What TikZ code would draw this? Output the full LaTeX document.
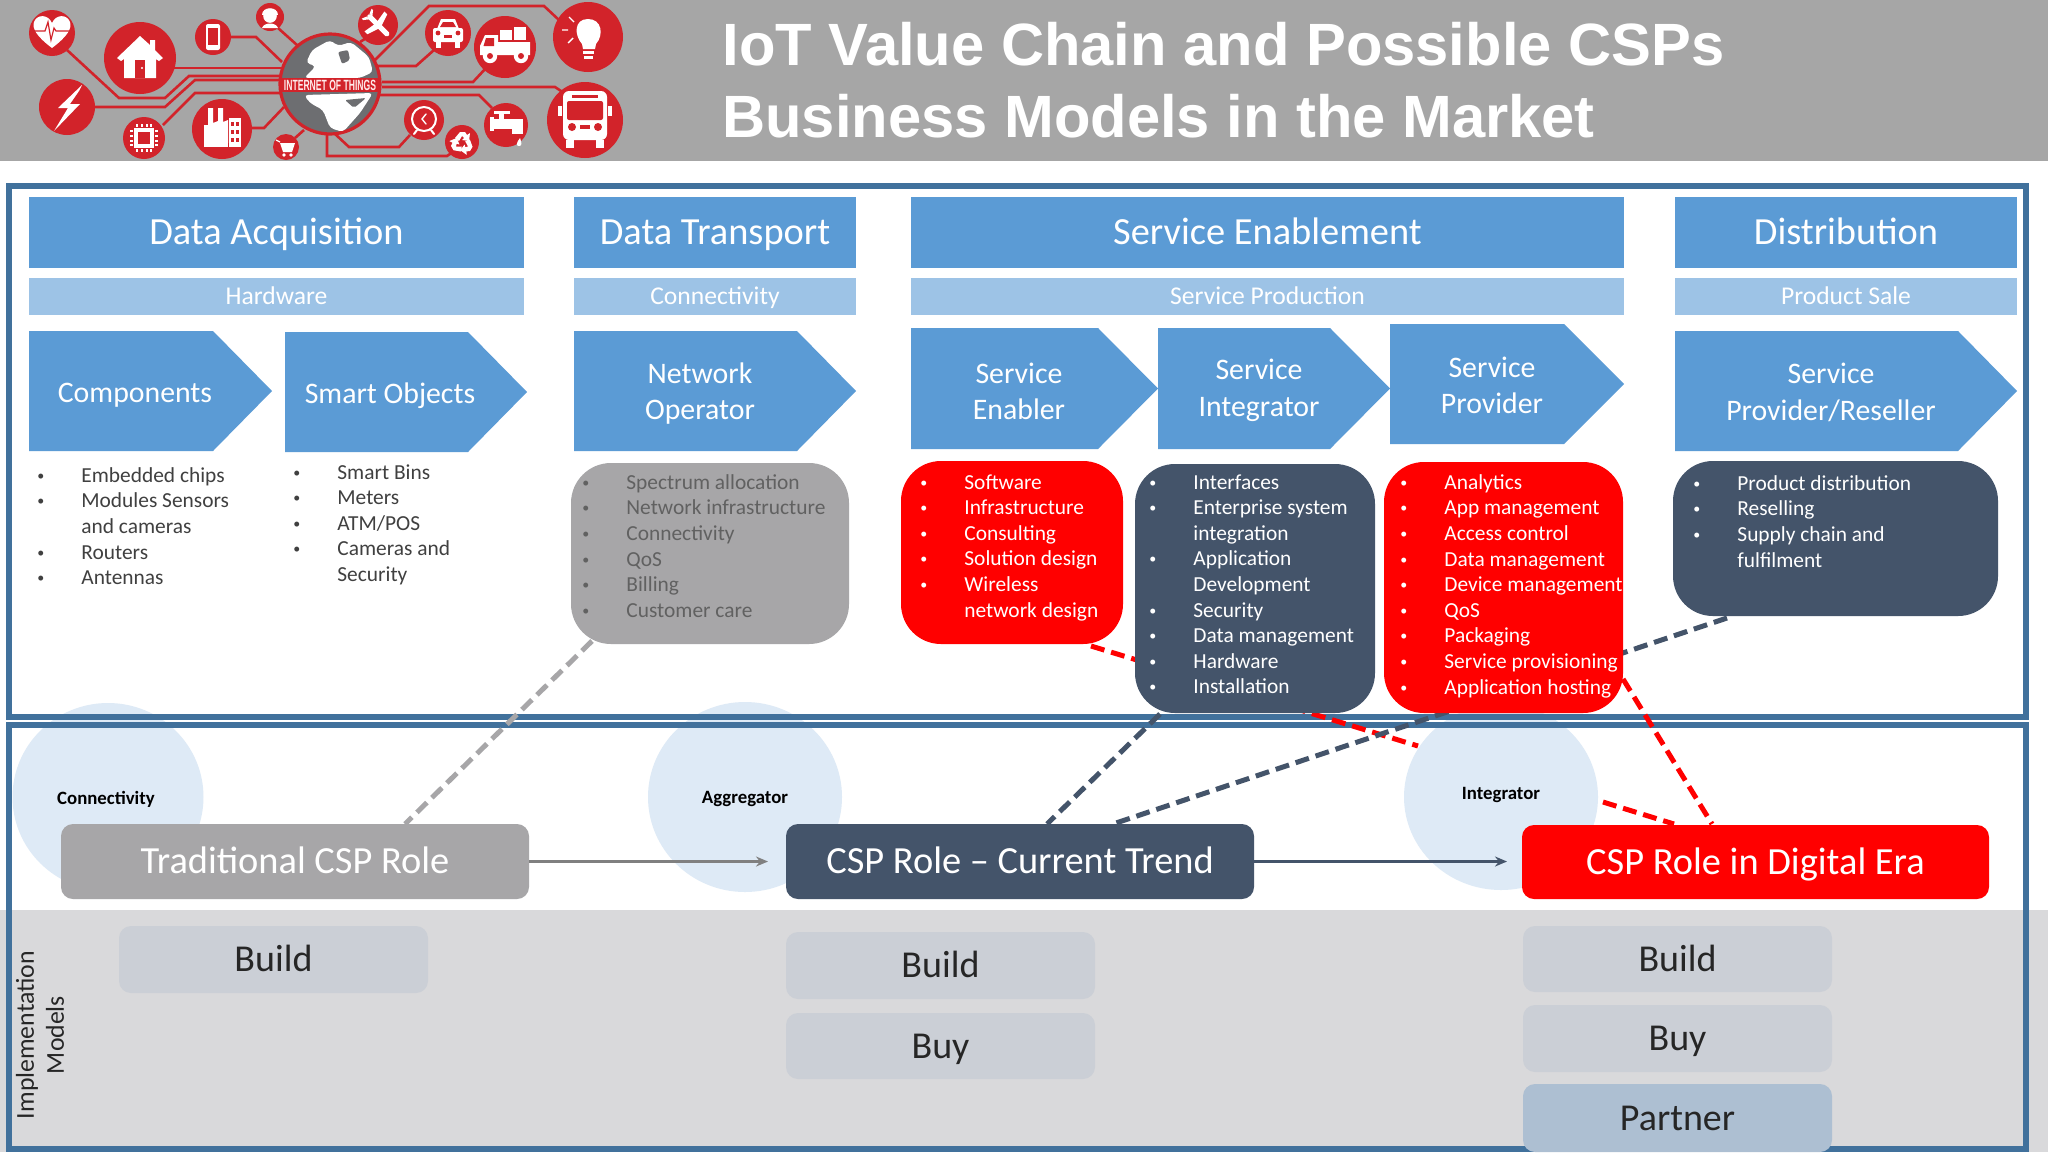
\documentclass[tikz,border=0pt]{standalone}
\usepackage{fontspec}
\setmainfont{Carlito}
\newfontfamily\titlefont{Liberation Sans}
\usetikzlibrary{arrows.meta,shapes.geometric}
\definecolor{hdrgray}{HTML}{A6A6A6}
\definecolor{frameblue}{HTML}{41719C}
\definecolor{headblue}{HTML}{5B9BD5}
\definecolor{subblue}{HTML}{9DC3E6}
\definecolor{darkslate}{HTML}{44546A}
\definecolor{midgray}{HTML}{A7A6A8}
\definecolor{bandgray}{HTML}{D9D9DB}
\definecolor{buildbox}{HTML}{CBCFD6}
\definecolor{partnerbox}{HTML}{ADBFD2}
\definecolor{roundel}{HTML}{DEEAF6}
\definecolor{logored}{HTML}{D2232A}
\definecolor{globegray}{HTML}{6D6E71}
\newcommand{\bxn}[7]{\pgfmathsetmacro\wa{(#5-(#3))*0.5}\pgfmathsetmacro\ha{(#6-(#4))*0.5}\pgfmathsetmacro\cxa{(#3+#5)/2}\pgfmathsetmacro\cya{(#4+#6)/2}\node[#1,minimum width=\wa pt,minimum height=\ha pt] (#2) at (\cxa,\cya) {#7};}
\newcommand{\pent}[5]{\fill[headblue] (#1,#2) -- (#3,#2) -- (#4,{(#2+#5)/2}) -- (#3,#5) -- (#1,#5) -- cycle;}
\newcommand{\bl}[1]{\makebox[22pt][l]{\raisebox{1pt}{\fontsize{7}{7}\selectfont •}}#1}
\newcommand{\cn}[1]{\hspace*{22pt}#1}
\tikzset{
  x=0.5pt,y=-0.5pt,
  headbox/.style={fill=headblue,text=white,inner sep=0pt,text height=15.4pt,text depth=3pt,font=\fontsize{19.2}{22}\selectfont},
  subbox/.style={fill=subblue,text=white,inner sep=0pt,text height=10.2pt,text depth=2pt,font=\fontsize{12.8}{15}\selectfont},
  pentlabel/.style={text=white,align=center,inner sep=0pt,font=\fontsize{14.9}{18.3}\selectfont},
  listbox/.style={rounded corners=20pt,inner sep=0pt},
  listtext/.style={anchor=north west,align=left,inner sep=0pt,font=\fontsize{10.7}{12.8}\selectfont},
  rolebox/.style={rounded corners=6pt,text=white,inner sep=0pt,text height=15.4pt,text depth=3pt,font=\fontsize{19.2}{22}\selectfont},
  modelbox/.style={fill=buildbox,rounded corners=6pt,text=black!85,inner sep=0pt,text height=15.4pt,text depth=3pt,font=\fontsize{19}{22}\selectfont},
  roundlabel/.style={font=\bfseries\fontsize{9.4}{11}\selectfont,text=black,inner sep=0pt},
  link/.style={dashed,dash pattern=on 7pt off 3.5pt,line width=2.5pt},
  wire/.style={draw=logored,line width=1.3pt},
  disc/.style={fill=logored},
  icon/.style={fill=white},
  iconl/.style={draw=white,line width=1pt,line cap=round},
}
\begin{document}
\begin{tikzpicture}
\useasboundingbox (0,0) rectangle (2048,1152);
\fill[white] (0,0) rectangle (2048,1152);
% ---------- title band
\fill[hdrgray] (0,0) rectangle (2048,161);
\node[anchor=west,align=left,inner sep=0pt,text=white,font=\titlefont\bfseries\fontsize{29.85}{35.8}\selectfont] (title) at (722,80) {IoT Value Chain and Possible CSPs\\Business Models in the Market};
% ---------- logo wires
\draw[wire] (67,50)--(119,98)--(165,98)--(189,76)--(282,76);
\draw[wire] (173,68)--(282,68);
\draw[wire] (95,107)--(165,107)--(195,80)--(282,80);
\draw[wire] (163,125)--(195,93)--(282,93);
\draw[wire] (251,128)--(264,128)--(284,107);
\draw[wire] (230,37)--(256,37)--(282,62);
\draw[wire] (278,28)--(297,45);
\draw[wire] (371,35)--(360,42);
\draw[wire] (375,60)--(429,6)--(544,6)--(559,20);
\draw[wire] (377,66)--(416,66)--(434,50);
\draw[wire] (382,82)--(473,82)--(486,68);
\draw[wire] (382,87)--(555,87)--(564,93);
\draw[wire] (380,95)--(479,95)--(492,108);
\draw[wire] (334,133)--(349,147)--(399,147)--(410,135);
\draw[wire] (327,133)--(327,156)--(447,156)--(453,152);
\draw[wire] (304,130)--(295,138);
% discs
\foreach \cx/\cy/\r in {52/33/23,140/58/36,213/37/18,270/17/14,378/25/20,448/33/23,505/47/31,588/37/35,585/120/38,506/125/22,462/142/17,424/120/20,286/147/13,222/129/30,144/138/21,67/107/28}
  \fill[disc] (\cx,\cy) circle[radius=\r*0.5pt];
% globe
\fill[globegray,draw=logored,line width=1.6pt] (330,84) circle[radius=25pt];
\fill[white,rounded corners=2pt] (306,63)--(312,50)--(330,40)--(338,46)--(351,42)--(369,57)--(373,72)--(360,78)--(304,78)--(316,66)--cycle;
\fill[globegray,rounded corners=1pt] (338,52)--(348,50)--(350,60)--(342,64)--cycle;
\fill[white,rounded corners=2pt] (304,95)--(373,93)--(360,113)--(343,132)--(330,128)--(323,110)--(310,103)--cycle;
\fill[globegray,rounded corners=1pt] (345,100)--(366,98)--(354,108)--cycle;
\fill[logored] (281,78) rectangle (379,92);
\node[text=white!92!red,inner sep=0pt,font=\titlefont\bfseries\fontsize{7.4}{8}\selectfont] (iot) at (330,85) {\scalebox{0.58}[1]{INTERNET OF THINGS}};
% heart
\fill[icon] (52,48)..controls (36,36) and (32,28)..(34,22)..controls (37,14) and (48,14)..(52,23)..controls (56,14) and (67,14)..(70,22)..controls (72,28) and (68,36)..(52,48)--cycle;
\draw[draw=logored,line width=.6pt] (33,31)--(45,31)--(48,22)--(51,40)--(54,28)--(56,31)--(71,31);
% house
\fill[icon] (117,58)--(140,36)--(150,45)--(150,40)--(155,40)--(155,50)--(163,58)--(159,61)--(156,59)--(156,78)--(124,78)--(124,59)--(121,61)--cycle;
\fill[logored] (135,60) rectangle (145,78);
\fill[white] (142,68) circle[radius=.6pt];
% phone
\fill[icon,rounded corners=1pt] (206,24) rectangle (220,50);
\fill[logored] (208,28) rectangle (218,45);
% worker
\fill[icon] (270,16) circle[radius=3.4pt];
\fill[icon] (262,15)..controls (262,6) and (278,6)..(278,15)--cycle;
\fill[icon] (262,28)..controls (264,22) and (276,22)..(278,28)--cycle;
% plane
\begin{scope}[shift={(378,25)},rotate=-45]
\fill[icon,rounded corners=.8pt] (-14,-2.5) rectangle (15,2.5);
\fill[icon] (-3,-2)--(3,-2)--(-1,-14)--(-5,-14)--cycle;
\fill[icon] (-3,2)--(3,2)--(-1,14)--(-5,14)--cycle;
\fill[icon] (-14,-2)--(-10,-2)--(-14,-7)--(-16,-7)--cycle;
\fill[icon] (-14,2)--(-10,2)--(-14,7)--(-16,7)--cycle;
\end{scope}
% car
\fill[icon,rounded corners=1pt] (433,28) rectangle (463,42);
\fill[icon] (437,29)--(441,19)--(455,19)--(459,29)--cycle;
\fill[logored] (440,27)--(443,22)--(453,22)--(456,27)--cycle;
\fill[icon] (436,42) rectangle (441,48);
\fill[icon] (455,42) rectangle (460,48);
\fill[logored] (438,33) circle[radius=1.2pt];
\fill[logored] (458,33) circle[radius=1.2pt];
\fill[logored] (444,35) rectangle (452,38);
% truck
\fill[icon] (498,35)--(485,35)--(480,46)--(480,55)--(530,55)--(530,42)--(498,42)--cycle;
\fill[logored] (486,38)--(494,38)--(494,46)--(483.5,46)--cycle;
\fill[icon] (500,30) rectangle (512,40);
\fill[icon] (514,27) rectangle (526,40);
\fill[icon] (490,56) circle[radius=3.6pt];
\fill[icon] (521,56) circle[radius=3.6pt];
\fill[logored] (490,56) circle[radius=1.5pt];
\fill[logored] (521,56) circle[radius=1.5pt];
% bulb
\fill[icon] (588,19)..controls (574,19) and (574,35)..(582,44)--(583,49)--(595,49)--(596,44)..controls (604,35) and (602,19)..(588,19)--cycle;
\fill[icon] (583,51) rectangle (594,54);
\fill[icon] (584,56) rectangle (593,59);
\draw[draw=white,line width=.7pt] (574,22)--(569,17) (568,30)--(562,30) (573,38)--(568,43);
% bus
\fill[icon,rounded corners=3pt] (563,91) rectangle (607,140);
\fill[logored,rounded corners=1pt] (567,101) rectangle (603,120);
\fill[logored] (572,95) rectangle (598,98);
\fill[logored] (572,127) circle[radius=2pt];
\fill[logored] (598,127) circle[radius=2pt];
\fill[logored] (580,125) rectangle (590,129);
\fill[icon] (566,140) rectangle (574,148);
\fill[icon] (596,140) rectangle (604,148);
\fill[icon] (558,106) rectangle (562,116);
\fill[icon] (608,106) rectangle (612,116);
% tap
\fill[icon] (490,119) rectangle (523,129);
\fill[icon] (512,124) rectangle (523,134);
\fill[icon] (499,114) rectangle (504,120);
\fill[icon] (494,111) rectangle (510,114);
\fill[icon] (490,117) rectangle (494,131);
\fill[icon] (520,138)..controls (516,143) and (516,146)..(519,146)..controls (522,146) and (522,143)..(520,138)--cycle;
% recycle
\begin{scope}[shift={(462,143)}]
\foreach \a in {0,120,240}{
  \fill[icon,rotate=\a] (-7,-5)--(-2,-11)--(3,-11)--(5,-8)--(8,-10)--(7,-2)--(0,-3)--(2,-5)--(0,-7)--(-3,-2)--cycle;
}
\end{scope}
% clock
\draw[draw=white,line width=1pt,fill=none] (424,119) circle[radius=6pt];
\draw[iconl,line width=.7pt] (426,114)--(422,119)--(426,124);
\draw[iconl] (414,134)--(417,130) (434,134)--(431,130);
% cart
\fill[icon] (280,143)--(295,143)--(292,152)--(283,152)--cycle;
\draw[draw=white,line width=.6pt] (276,140)--(280,142);
\fill[icon] (284,155) circle[radius=.9pt];
\fill[icon] (291,155) circle[radius=.9pt];
% factory
\fill[icon] (204,143)--(204,125)--(208,125)--(208,108)--(213,108)--(213,123)--(218,121)--(218,108)--(223,108)--(223,122)--(228,120)--(228,143)--cycle;
\fill[icon] (229,118) rectangle (241,147);
\foreach \yy in {122,130,138}{\fill[logored] (231,\yy) rectangle (234,\yy+4);\fill[logored] (236,\yy) rectangle (239,\yy+4);}
\fill[icon] (204,143) rectangle (228,147);
% chip
\fill[icon] (134,128) rectangle (154,148);
\fill[logored] (138,132) rectangle (150,144);
\foreach \k in {-7,-2.5,2.5,7}{
  \fill[icon] (144+\k-1,124) rectangle (144+\k+1,127);
  \fill[icon] (144+\k-1,149) rectangle (144+\k+1,152);
  \fill[icon] (130,138+\k-1) rectangle (133,138+\k+1);
  \fill[icon] (155,138+\k-1) rectangle (158,138+\k+1);
}
% lightning
\fill[icon] (82,85)--(58,108)--(68,108)--(54,131)--(80,104)--(70,104)--(79,91)--cycle;
% ---------- lower background
\fill[bandgray] (0,910) rectangle (2048,1152);
% roundels
\node[fill=roundel,ellipse,draw=none,minimum width=95.5pt,minimum height=94pt,inner sep=0pt] (rConn) at (108,797) {};
\node[fill=roundel,ellipse,draw=none,minimum width=97pt,minimum height=95pt,inner sep=0pt] (rAggr) at (745,797) {};
\node[fill=roundel,ellipse,draw=none,minimum width=97pt,minimum height=93pt,inner sep=0pt] (rIntg) at (1501,797) {};
% frames
\draw[frameblue,line width=2.8pt] (9,186) rectangle (2026,717);
\draw[frameblue,line width=2.8pt] (9,725) rectangle (2026,1149);
% ---------- links
\coordinate (gs) at (592,641);
\coordinate (ge) at (405,824);
\coordinate (r1s) at (1091,646);
\coordinate (r1c) at (1418,746);
\coordinate (r1b) at (1603,802);
\coordinate (r1e) at (1674,824);
\coordinate (r2s) at (1623,679);
\coordinate (r2e) at (1712,824);
\coordinate (d1s) at (1727,618);
\coordinate (d1e) at (1113,824);
\coordinate (d2s) at (1160,714);
\coordinate (d2e) at (1047,824);
\draw[link,midgray] (gs)--(ge);
\draw[link,red] (r1s)--(r1c);
\draw[link,red] (r1b)--(r1e);
\draw[link,red] (r2s)--(r2e);
\draw[link,darkslate] (d1s)--(d1e);
\draw[link,darkslate] (d2s)--(d2e);
\node[roundlabel] (lConn) at (106,799) {Connectivity};
\node[roundlabel] (lAggr) at (745,799) {Aggregator};
\node[roundlabel] (lIntg) at (1501,795) {Integrator};
% ---------- headers
\bxn{headbox}{hA}{29}{197}{524}{268}{Data Acquisition}
\bxn{headbox}{hB}{574}{197}{856}{268}{Data Transport}
\bxn{headbox}{hC}{911}{197}{1624}{268}{Service Enablement}
\bxn{headbox}{hD}{1675}{197}{2017}{268}{Distribution}
\bxn{subbox}{sA}{29}{278}{524}{315}{Hardware}
\bxn{subbox}{sB}{574}{278}{856}{315}{Connectivity}
\bxn{subbox}{sC}{911}{278}{1624}{315}{Service Production}
\bxn{subbox}{sD}{1675}{278}{2017}{315}{Product Sale}
% ---------- pentagons
\pent{29}{331}{213}{272}{451}
\pent{285}{332}{468}{527}{452}
\pent{574}{331}{797}{856}{451}
\pent{911}{328}{1098}{1158}{449}
\pent{1158}{328}{1330}{1390}{449}
\pent{1390}{324}{1564}{1624}{444}
\pent{1675}{331}{1958}{2017}{451}
\node[pentlabel] (pA) at (135,395) {Components};
\node[pentlabel] (pB) at (390,396) {Smart Objects};
\node[pentlabel] (pC) at (700,393.5) {Network\\Operator};
\node[pentlabel] (pD) at (1019,391.5) {Service\\Enabler};
\node[pentlabel] (pE) at (1259,390.5) {Service\\Integrator};
\node[pentlabel] (pF) at (1492,385.5) {Service\\Provider};
\node[pentlabel] (pG) at (1831,392.5) {Service\\Provider/Reseller};
% ---------- lists
\bxn{listbox,fill=midgray}{bGray}{571}{463}{849}{644}{}
\bxn{listbox,fill=red}{bRedA}{901}{461}{1123}{644}{}
\bxn{listbox,fill=darkslate}{bDark}{1135}{464}{1375}{713}{}
\bxn{listbox,fill=red}{bRedB}{1384}{462}{1623}{713}{}
\bxn{listbox,fill=darkslate}{bDist}{1673}{461}{1998}{616}{}
\node[listtext,text=black!75] (tA) at (37,467) {\bl{Embedded chips}\\\bl{Modules Sensors}\\\cn{and cameras}\\\bl{Routers}\\\bl{Antennas}};
\node[listtext,text=black!75] (tB) at (293,464) {\bl{Smart Bins}\\\bl{Meters}\\\bl{ATM/POS}\\\bl{Cameras and}\\\cn{Security}};
\node[listtext,text=black!62] (tC) at (582,474) {\bl{Spectrum allocation}\\\bl{Network infrastructure}\\\bl{Connectivity}\\\bl{QoS}\\\bl{Billing}\\\bl{Customer care}};
\node[listtext,text=white] (tD) at (920,474) {\bl{Software}\\\bl{Infrastructure}\\\bl{Consulting}\\\bl{Solution design}\\\bl{Wireless}\\\cn{network design}};
\node[listtext,text=white] (tE) at (1149,474) {\bl{Interfaces}\\\bl{Enterprise system}\\\cn{integration}\\\bl{Application}\\\cn{Development}\\\bl{Security}\\\bl{Data management}\\\bl{Hardware}\\\bl{Installation}};
\node[listtext,text=white] (tF) at (1400,474) {\bl{Analytics}\\\bl{App management}\\\bl{Access control}\\\bl{Data management}\\\bl{Device management}\\\bl{QoS}\\\bl{Packaging}\\\bl{Service provisioning}\\\bl{Application hosting}};
\node[listtext,text=white] (tG) at (1693,475) {\bl{Product distribution}\\\bl{Reselling}\\\bl{Supply chain and}\\\cn{fulfilment}};
% ---------- role row
\bxn{rolebox,fill=midgray}{rTrad}{61}{824}{529}{899}{Traditional CSP Role}
\bxn{rolebox,fill=darkslate}{rCur}{786}{824}{1254}{899}{CSP Role -- Current Trend}
\bxn{rolebox,fill=red}{rDig}{1522}{825}{1989}{899}{CSP Role in Digital Era}
\coordinate (aMid) at (768,861.5);
\draw[-{Stealth[length=6pt,width=5pt]},line width=1.2pt,draw=black!50] (rTrad.east)--(aMid);
\coordinate (aEnd) at (1507,861.5);
\draw[-{Stealth[length=6pt,width=5pt]},line width=1.2pt,draw=darkslate] (rCur.east)--(aEnd);
% ---------- models
\bxn{modelbox}{m1}{119}{926}{428}{993}{Build}
\bxn{modelbox}{m2}{786}{932}{1095}{999}{Build}
\bxn{modelbox}{m3}{786}{1013}{1095}{1079}{Buy}
\bxn{modelbox}{m4}{1523}{926}{1832}{992}{Build}
\bxn{modelbox}{m5}{1523}{1005}{1832}{1072}{Buy}
\bxn{modelbox,fill=partnerbox}{m6}{1523}{1084}{1832}{1152}{Partner}
\node[rotate=90,align=center,inner sep=0pt,text=black!85,font=\fontsize{12.9}{15}\selectfont] (impl) at (40,1035) {Implementation\\Models};
\end{tikzpicture}
\end{document}
